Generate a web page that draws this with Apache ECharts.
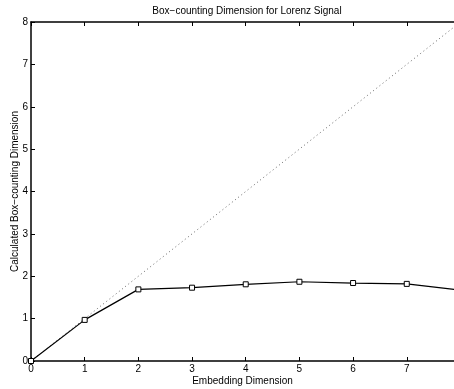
<!DOCTYPE html>
<html>
<head>
<meta charset="utf-8">
<script src="https://cdn.jsdelivr.net/npm/echarts@6/dist/echarts.min.js"></script>
<style>
  html, body { margin: 0; padding: 0; background: #fff; }
  #chart { width: 454px; height: 389px; }
</style>
</head>
<body>
<div id="chart"></div>
<script>
// embedding dimension vs calculated box-counting dimension
const embedDims = [0, 1, 2, 3, 4, 5, 6, 7, 8];
const boxDims = [0, 0.97, 1.69, 1.73, 1.81, 1.87, 1.84, 1.82, 1.67];
// reference line y = x
const refX = [0, 8];
const refY = [0, 8];

const fontFam = '"Liberation Sans", Arial, sans-serif';
const myChart = echarts.init(document.getElementById('chart'));

const axisCommon = {
    axisLine: { show: true, onZero: false, lineStyle: { color: '#000', width: 1.5 } },
    axisTick: { show: true, inside: true, length: 4, lineStyle: { color: '#000', width: 1 } },
    splitLine: { show: false },
};

const option = {
    animation: false,
    title: {
        text: 'Box\u2212counting Dimension for Lorenz Signal',
        left: 242,
        top: 1,
        textAlign: 'center',
        textStyle: { fontFamily: fontFam, fontSize: 10, fontWeight: 'normal', color: '#000' },
    },
    grid: { left: 31, right: 0, top: 22, bottom: 28, outerBoundsMode: 'none', containLabel: false },
    xAxis: [{
        ...axisCommon,
        type: 'value',
        min: 0,
        max: 7.88,
        interval: 1,
        name: 'Embedding Dimension',
        nameLocation: 'middle',
        nameGap: 15,
        nameMoveOverlap: false,
        nameTextStyle: { fontFamily: fontFam, fontSize: 10, color: '#000' },
        axisLabel: { fontFamily: fontFam, fontSize: 10, color: '#000', margin: 3, showMaxLabel: false },
    }, {
        ...axisCommon,
        type: 'value',
        position: 'top',
        min: 0,
        max: 7.88,
        interval: 1,
        axisLabel: { show: false },
    }],
    yAxis: {
        ...axisCommon,
        type: 'value',
        min: 0,
        max: 8,
        interval: 1,
        name: 'Calculated Box\u2212counting Dimension',
        nameLocation: 'middle',
        nameGap: 11,
        nameMoveOverlap: false,
        nameTextStyle: { fontFamily: fontFam, fontSize: 10, color: '#000' },
        axisLabel: { fontFamily: fontFam, fontSize: 10, color: '#000', margin: 3 },
    },
    series: [{
        type: 'line',
        data: refX.map((x, i) => [x, refY[i]]),
        showSymbol: false,
        lineStyle: { color: '#666', width: 1, type: [1, 3] },
        clip: true,
        z: 1,
    }, {
        type: 'line',
        data: embedDims.map((x, i) => [x, boxDims[i]]),
        symbol: 'rect',
        symbolSize: 5,
        itemStyle: { color: '#fff', borderColor: '#000', borderWidth: 1 },
        lineStyle: { color: '#000', width: 1.2 },
        clip: true,
        z: 2,
    }],
};

myChart.setOption(option);
</script>
</body>
</html>
